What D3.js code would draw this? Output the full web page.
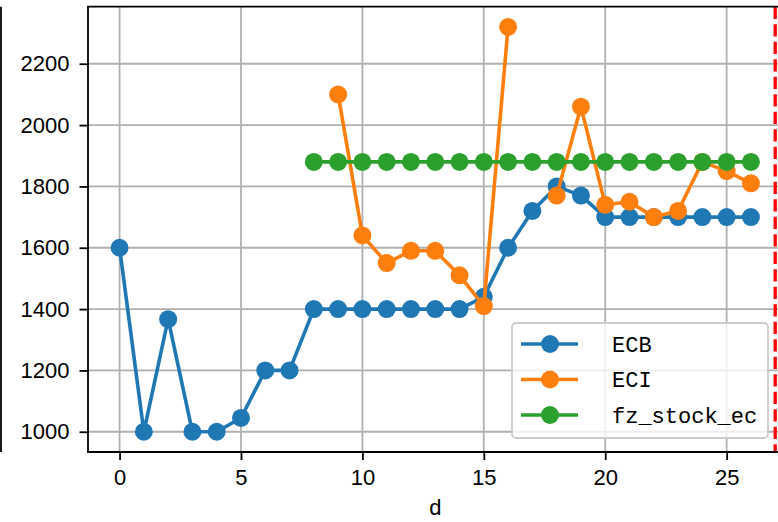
<!DOCTYPE html>
<html>
<head>
<meta charset="utf-8">
<script src="https://cdn.jsdelivr.net/npm/d3@7"></script>
<style>
  html, body { margin: 0; padding: 0; background: #fff; }
  svg { display: block; }
</style>
</head>
<body>
<script>
// ---- data ----
const days = d3.range(0, 27);
const ecb = [1600, 1000, 1367, 1000, 1000, 1045, 1200, 1200, 1400, 1400, 1400, 1400, 1400, 1400, 1400, 1440, 1600, 1720, 1800, 1770, 1700, 1700, 1700, 1700, 1700, 1700, 1700];
const eci = [null, null, null, null, null, null, null, null, null, 2100, 1640, 1550, 1590, 1590, 1510, 1410, 2320, null, 1770, 2060, 1740, 1750, 1700, 1720, 1880, 1850, 1810];
const fzStock = [null, null, null, null, null, null, null, null, 1880, 1880, 1880, 1880, 1880, 1880, 1880, 1880, 1880, 1880, 1880, 1880, 1880, 1880, 1880, 1880, 1880, 1880, 1880];
const seriesNames = ["ECB", "ECI", "fz_stock_ec"];
const seriesColors = ["#1f77b4", "#ff7f0e", "#2ca02c"];
const xTicks = [0, 5, 10, 15, 20, 25];
const yTicks = [1000, 1200, 1400, 1600, 1800, 2000, 2200];
const vlineX = 27;
const xLabel = "d";

const W = 778, H = 522;
const L = 88, R = 782.5, T = 6.7, B = 452;

const svg = d3.select("body").append("svg").attr("width", W).attr("height", H);

const x = d3.scaleLinear().domain([-1.3, 27.3]).range([L, R]);
const y = d3.scaleLinear().domain([934, 2386]).range([B, T]);

const tickFont = "'Liberation Sans', Arial, sans-serif";
const legendFont = "'Liberation Mono', 'DejaVu Sans Mono', monospace";

// clip for plot area
svg.append("defs").append("clipPath").attr("id", "plot")
  .append("rect").attr("x", L).attr("y", T).attr("width", R - L).attr("height", B - T);

// grid
const grid = svg.append("g");
grid.selectAll(".gx").data(xTicks).enter().append("line")
  .attr("x1", d => x(d)).attr("x2", d => x(d)).attr("y1", T).attr("y2", B)
  .attr("stroke", "#b0b0b0").attr("stroke-width", 1.8);
grid.selectAll(".gy").data(yTicks).enter().append("line")
  .attr("x1", L).attr("x2", R).attr("y1", d => y(d)).attr("y2", d => y(d))
  .attr("stroke", "#b0b0b0").attr("stroke-width", 1.8);

// series
const data = [ecb, eci, fzStock];
const plot = svg.append("g").attr("clip-path", "url(#plot)");
data.forEach((vals, i) => {
  const pts = days.map((d, k) => ({ d, v: vals[k] }));
  const line = d3.line().defined(p => p.v !== null).x(p => x(p.d)).y(p => y(p.v));
  const g = plot.append("g");
  g.append("path").attr("d", line(pts)).attr("fill", "none")
    .attr("stroke", seriesColors[i]).attr("stroke-width", 3.6).attr("stroke-linejoin", "round");
  g.selectAll("circle").data(pts.filter(p => p.v !== null)).enter().append("circle")
    .attr("cx", p => x(p.d)).attr("cy", p => y(p.v)).attr("r", 9)
    .attr("fill", seriesColors[i]);
});

// vertical dashed red line
svg.append("line")
  .attr("x1", x(vlineX)).attr("x2", x(vlineX)).attr("y1", T).attr("y2", B)
  .attr("stroke", "red").attr("stroke-width", 3.3).attr("stroke-dasharray", "12.2,5.3");

// axes
const xAxis = d3.axisBottom(x).tickValues(xTicks).tickFormat(d3.format("d")).tickSize(8).tickPadding(9).tickSizeOuter(0);
const yAxis = d3.axisLeft(y).tickValues(yTicks).tickFormat(d3.format("d")).tickSize(8.5).tickPadding(10).tickSizeOuter(0);
const gx = svg.append("g").attr("transform", `translate(0,${B})`).call(xAxis);
const gy = svg.append("g").attr("transform", `translate(${L},0)`).call(yAxis);
[gx, gy].forEach(g => {
  g.select(".domain").remove();
  g.selectAll(".tick line").attr("stroke", "#000").attr("stroke-width", 1.8);
  g.selectAll(".tick text").attr("font-family", tickFont).attr("font-size", 22).attr("fill", "#000");
});

// spines
svg.append("line").attr("x1", L).attr("x2", L).attr("y1", T).attr("y2", B).attr("stroke", "#000").attr("stroke-width", 1.8);
svg.append("line").attr("x1", L - 0.9).attr("x2", R).attr("y1", B).attr("y2", B).attr("stroke", "#000").attr("stroke-width", 1.8);
svg.append("line").attr("x1", L - 0.9).attr("x2", R).attr("y1", T).attr("y2", T).attr("stroke", "#000").attr("stroke-width", 1.8);
svg.append("line").attr("x1", R).attr("x2", R).attr("y1", T).attr("y2", B).attr("stroke", "#000").attr("stroke-width", 1.8);
// neighbouring panel's spine at far left
svg.append("line").attr("x1", 1).attr("x2", 1).attr("y1", T).attr("y2", B).attr("stroke", "#000").attr("stroke-width", 1.8);

// x label
svg.append("text").attr("x", (L + R) / 2).attr("y", 515)
  .attr("text-anchor", "middle").attr("font-family", tickFont).attr("font-size", 22).text(xLabel);

// legend
const lg = svg.append("g");
lg.append("rect").attr("x", 512).attr("y", 323).attr("width", 256).attr("height", 115)
  .attr("rx", 4).attr("fill", "#fff").attr("fill-opacity", 0.8)
  .attr("stroke", "#cccccc").attr("stroke-width", 1.8);
const rowY = [344, 379.5, 415];
seriesNames.forEach((name, i) => {
  lg.append("line").attr("x1", 521).attr("x2", 578).attr("y1", rowY[i]).attr("y2", rowY[i])
    .attr("stroke", seriesColors[i]).attr("stroke-width", 3.6);
  lg.append("circle").attr("cx", 550).attr("cy", rowY[i]).attr("r", 9).attr("fill", seriesColors[i]);
  lg.append("text").attr("x", 612).attr("y", rowY[i]).attr("dy", "0.36em")
    .attr("font-family", legendFont).attr("font-size", 22).attr("fill", "#000").text(name);
});
</script>
</body>
</html>
